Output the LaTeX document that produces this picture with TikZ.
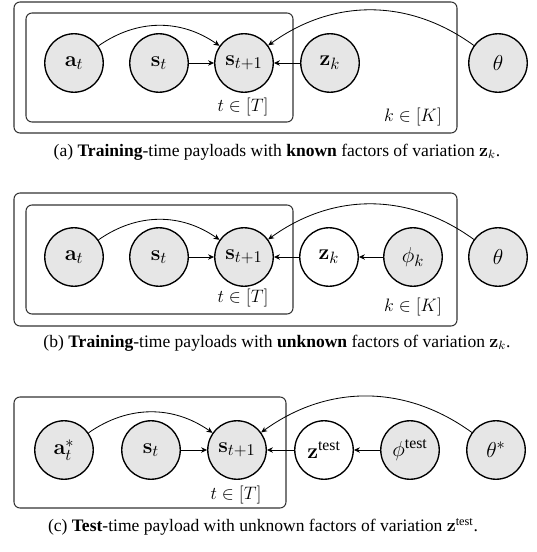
\documentclass[tikz,border=0pt]{standalone}
\usepackage{amsmath}
\usepackage[no-math]{fontspec}
\setmainfont{Liberation Serif}
\usetikzlibrary{arrows.meta}
\definecolor{nodegray}{HTML}{E6E6E6}
\tikzset{
  var/.style={circle, draw=black, line width=0.9pt, minimum size=39pt, inner sep=0pt, font=\fontsize{15}{18}\selectfont},
  obs/.style={var, fill=nodegray},
  lat/.style={var, fill=white},
  plate/.style={draw=black!80, line width=0.7pt, rounded corners=4pt},
  platelabel/.style={font=\fontsize{12}{14}\selectfont, inner sep=0pt},
  arr/.style={-{Stealth[length=4pt,width=3.6pt]}, line width=0.55pt},
  captext/.style={font=\fontsize{11.7}{14}\selectfont, inner sep=0pt}
}
\begin{document}
\begin{tikzpicture}[x=0.667pt, y=-0.667pt]
\useasboundingbox (0,0) rectangle (537,552);
% ---------- (a)
\draw[plate] (14,2) rectangle (457,133);
\draw[plate] (26,13) rectangle (293,122);
\node[obs] (aa) at (74,63) {$\mathbf{a}_t$};
\node[obs] (as) at (159,63) {$\mathbf{s}_t$};
\node[obs] (as1) at (244,63) {$\mathbf{s}_{t+1}$};
\node[obs] (az) at (330,63) {$\mathbf{z}_k$};
\node[obs] (ath) at (498,63) {$\theta$};
\node[platelabel] (aT) at (243,107) {$t\in[T]$};
\node[platelabel] (aK) at (413,117) {$k\in[K]$};
\draw[arr] (as) -- (as1);
\draw[arr] (az) -- (as1);
\draw[arr] (aa) to[out=35,in=145] (as1);
\draw[arr] (ath) to[out=144,in=36] (as1);
\node[captext] (capa) at (277,152) {(a) \textbf{Training}-time payloads with \textbf{known} factors of variation $\mathbf{z}_k$.};
% ---------- (b)
\draw[plate] (14,193) rectangle (457,326);
\draw[plate] (26,205) rectangle (293,314);
\node[obs] (ba) at (74,257) {$\mathbf{a}_t$};
\node[obs] (bs) at (159,257) {$\mathbf{s}_t$};
\node[obs] (bs1) at (244,257) {$\mathbf{s}_{t+1}$};
\node[lat] (bz) at (329,257) {$\mathbf{z}_k$};
\node[obs] (bphi) at (413,257) {$\phi_k$};
\node[obs] (bth) at (498,257) {$\theta$};
\node[platelabel] (bT) at (243,298) {$t\in[T]$};
\node[platelabel] (bK) at (413,307) {$k\in[K]$};
\draw[arr] (bs) -- (bs1);
\draw[arr] (bz) -- (bs1);
\draw[arr] (bphi) -- (bz);
\draw[arr] (ba) to[out=35,in=145] (bs1);
\draw[arr] (bth) to[out=144,in=36] (bs1);
\node[captext] (capb) at (277,343) {(b) \textbf{Training}-time payloads with \textbf{unknown} factors of variation $\mathbf{z}_k$.};
% ---------- (c)
\draw[plate] (14,397) rectangle (286,508);
\node[obs] (ca) at (64,450) {$\mathbf{a}_t^*$};
\node[obs] (cs) at (151,450) {$\mathbf{s}_t$};
\node[obs] (cs1) at (237,450) {$\mathbf{s}_{t+1}$};
\node[lat] (cz) at (324,450) {$\mathbf{z}^{\text{test}}$};
\node[obs] (cphi) at (410,450) {$\phi^{\text{test}}$};
\node[obs] (cth) at (496,450) {$\theta^*$};
\node[platelabel] (cT) at (236,495) {$t\in[T]$};
\draw[arr] (cs) -- (cs1);
\draw[arr] (cz) -- (cs1);
\draw[arr] (cphi) -- (cz);
\draw[arr] (ca) to[out=35,in=145] (cs1);
\draw[arr] (cth) to[out=144,in=36] (cs1);
\node[captext] (capc) at (263,527) {(c) \textbf{Test}-time payload with unknown factors of variation $\mathbf{z}^{\text{test}}$.};
\end{tikzpicture}
\end{document}
